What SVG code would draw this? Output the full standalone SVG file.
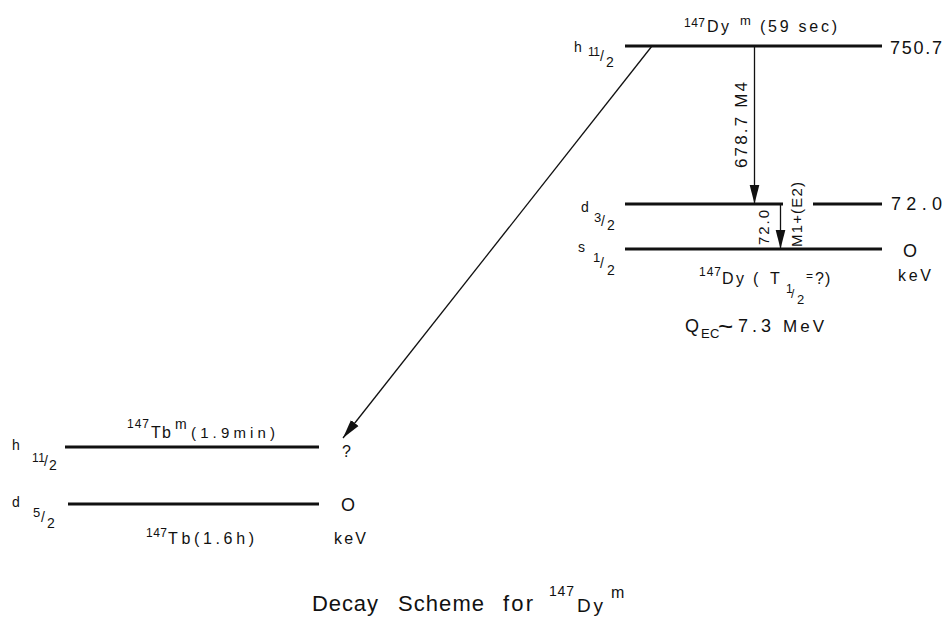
<svg xmlns="http://www.w3.org/2000/svg" width="948" height="618" viewBox="0 0 948 618">
<style>
text{font-family:"Liberation Sans","DejaVu Sans",Arial,sans-serif;fill:#111}
.lvl{stroke:#111;stroke-width:3;fill:none}
.tr{stroke:#111;stroke-width:1.3;fill:none}
.s11{font-size:11px}.s12{font-size:12px}.s13{font-size:13px}.s14{font-size:14px}.s15{font-size:15px}.s16{font-size:16px}.s17{font-size:17px}.s18{font-size:18px}.s19{font-size:19px}.s22{font-size:22px}.s26{font-size:26px}
</style>
<defs>
<marker id="ah" markerUnits="userSpaceOnUse" markerWidth="20" markerHeight="12" viewBox="0 0 20 12" refX="19" refY="6" orient="auto">
<path d="M0,1.2 L19,6 L0,10.8 Z" fill="#111"/>
</marker>
</defs>
<rect width="948" height="618" fill="#fff"/>

<g id="dym-750">
<line class="lvl" x1="625" y1="46" x2="882" y2="46"/>
<text class="s12" x="684" y="27" textLength="21">147</text>
<text class="s16" x="707" y="32" textLength="22">Dy</text>
<text class="s13" x="740" y="25">m</text>
<text class="s16" x="760" y="32" textLength="77">(59 sec)</text>
<text class="s18" x="890" y="54" textLength="52">750.7</text>
<text class="s14" x="574" y="52">h</text>
<text class="s12" x="588" y="56" textLength="12">11</text>
<text class="s14" x="600" y="61">/</text>
<text class="s14" x="606" y="67">2</text>
</g>

<g id="dy-72">
<path class="lvl" d="M625,204 H783 M813,204 H882"/>
<text class="s18" x="891" y="210" textLength="51">72.0</text>
<text class="s14" x="581" y="212">d</text>
<text class="s13" x="594" y="222">3</text>
<text class="s14" x="601" y="226">/</text>
<text class="s14" x="607" y="230">2</text>
</g>

<g id="dy-0">
<line class="lvl" x1="625" y1="249" x2="882" y2="249"/>
<text class="s18" x="903" y="257">O</text>
<text class="s16" x="898" y="281" textLength="33">keV</text>
<text class="s14" x="578" y="252">s</text>
<text class="s13" x="593" y="262">1</text>
<text class="s14" x="600" y="268">/</text>
<text class="s14" x="607" y="275">2</text>
<text class="s12" x="699" y="276" textLength="22">147</text>
<text class="s16" x="722" y="284" textLength="22">Dy</text>
<text class="s16" x="753" y="284">(</text>
<text class="s16" x="770" y="284">T</text>
<text class="s12" x="786" y="293">1</text>
<text class="s12" x="791" y="298">/</text>
<text class="s13" x="797" y="304">2</text>
<text class="s12" x="806" y="280">=</text>
<text class="s16" x="815" y="284">?</text>
<text class="s16" x="825" y="284">)</text>
<text class="s18" x="685" y="332">Q</text>
<text class="s13" x="701" y="338">E</text>
<text class="s13" x="710" y="338">C</text>
<text class="s26" x="718" y="335">~</text>
<text class="s18" x="738" y="332" textLength="33">7.3</text>
<text class="s17" x="783" y="332" textLength="41">MeV</text>
</g>

<g id="tbm">
<line class="lvl" x1="65" y1="447" x2="319" y2="447"/>
<text class="s12" x="127" y="428" textLength="22">147</text>
<text class="s16" x="151" y="438" textLength="20">Tb</text>
<text class="s14" x="175" y="429">m</text>
<text class="s15" x="191" y="438" textLength="84">(1.9min)</text>
<text class="s16" x="342" y="457">?</text>
<text class="s14" x="12" y="450">h</text>
<text class="s12" x="32" y="462" textLength="13">11</text>
<text class="s14" x="44" y="466">/</text>
<text class="s14" x="49" y="470">2</text>
</g>

<g id="tb-gs">
<line class="lvl" x1="68" y1="504" x2="319" y2="504"/>
<text class="s18" x="341" y="511">O</text>
<text class="s16" x="334" y="544" textLength="32">keV</text>
<text class="s14" x="12" y="507">d</text>
<text class="s13" x="33" y="517">5</text>
<text class="s14" x="41" y="522">/</text>
<text class="s14" x="47" y="528">2</text>
<text class="s12" x="146" y="537" textLength="21">147</text>
<text class="s16" x="168" y="544" textLength="86">Tb(1.6h)</text>
</g>

<g id="connectors">
<line class="tr" x1="754.5" y1="46" x2="754.5" y2="204" marker-end="url(#ah)"/>
<line class="tr" x1="780.5" y1="204" x2="780.5" y2="249" marker-end="url(#ah)"/>
<line class="tr" x1="652" y1="46" x2="343" y2="438" marker-end="url(#ah)"/>
<text class="s17" transform="translate(747,168) rotate(-90)" textLength="86">678.7 M4</text>
<text class="s15" transform="translate(769,245) rotate(-90)" textLength="35">72.0</text>
<text class="s15" transform="translate(802,247) rotate(-90)" textLength="65">M1+(E2)</text>
</g>

<g id="title">
<text class="s22" x="312" y="611" textLength="66">Decay</text>
<text class="s22" x="398" y="611" textLength="86">Scheme</text>
<text class="s22" x="503" y="611" textLength="30">for</text>
<text class="s14" x="549" y="596" textLength="25">147</text>
<text class="s19" x="577" y="612" textLength="26">Dy</text>
<text class="s16" x="611" y="598">m</text>
</g>
</svg>
